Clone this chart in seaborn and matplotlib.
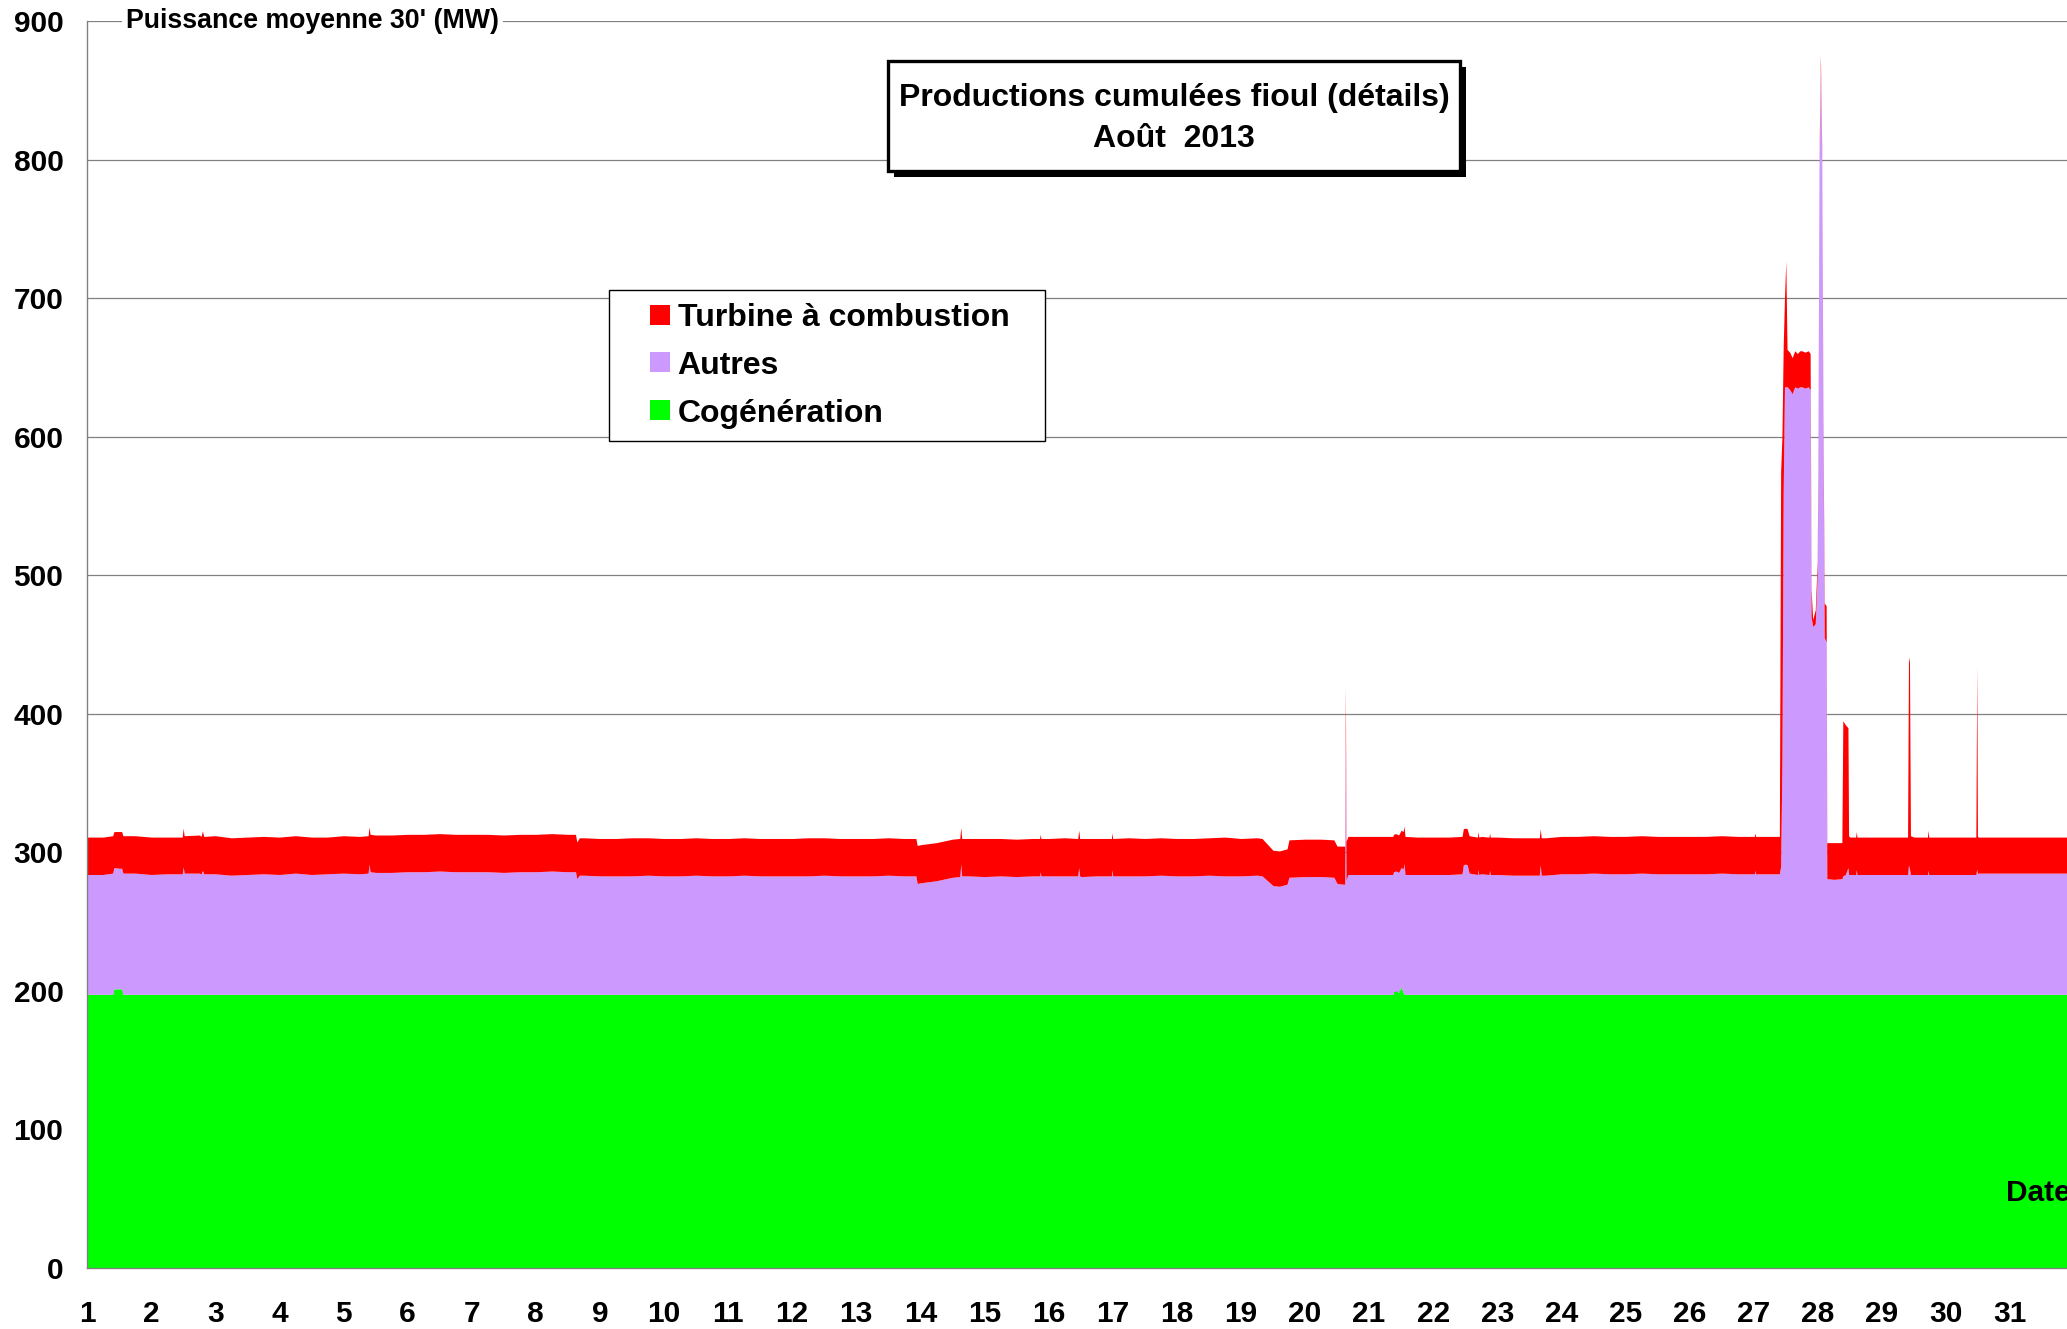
import numpy as np
import pandas as pd
import matplotlib
matplotlib.use("Agg")
import matplotlib.pyplot as plt
import matplotlib.transforms as mtransforms
from matplotlib.lines import Line2D
from matplotlib.patches import Rectangle
import seaborn as sns

# --- Style ---
sns.set_theme(style="white")
plt.rcParams['font.family'] = ['Liberation Sans', 'DejaVu Sans']
plt.rcParams['font.weight'] = 'bold'
plt.rcParams.update({
    'text.color': 'black',
    'axes.labelcolor': 'black',
    'xtick.color': 'black',
    'ytick.color': 'black',
})

# --- Data (MW, cumulative levels) ---
# quarter-day grid, 1 Aug 00:00 -> 1 Sep 00:00
jours_grille = np.arange(1, 32.001, 0.25)

# level of the green band (cogeneration)
haut_cogen_grille = [
    197.5, 197.5, 201.5, 197.5,   # 1
    197.5, 197.5, 197.5, 197.5,   # 2
    197.5, 197.5, 197.5, 197.5,   # 3
    197.5, 197.5, 197.5, 197.5,   # 4
    197.5, 197.5, 197.5, 197.5,   # 5
    197.5, 197.5, 197.5, 197.5,   # 6
    197.5, 197.5, 197.5, 197.5,   # 7
    197.5, 197.5, 197.5, 197.5,   # 8
    197.5, 197.5, 197.5, 197.5,   # 9
    197.5, 197.5, 197.5, 197.5,   # 10
    197.5, 197.5, 197.5, 197.5,   # 11
    197.5, 197.5, 197.5, 197.5,   # 12
    197.5, 197.5, 197.5, 197.5,   # 13
    197.5, 197.5, 197.5, 197.5,   # 14
    197.5, 197.5, 197.5, 197.5,   # 15
    197.5, 197.5, 197.5, 197.5,   # 16
    197.5, 197.5, 197.5, 197.5,   # 17
    197.5, 197.5, 197.5, 197.5,   # 18
    197.5, 197.5, 197.5, 197.5,   # 19
    197.5, 197.5, 197.5, 197.5,   # 20
    197.5, 197.5, 203.0, 197.5,   # 21
    197.5, 197.5, 197.5, 197.5,   # 22
    197.5, 197.5, 197.5, 197.5,   # 23
    197.5, 197.5, 197.5, 197.5,   # 24
    197.5, 197.5, 197.5, 197.5,   # 25
    197.5, 197.5, 197.5, 197.5,   # 26
    197.5, 197.5, 197.5, 197.5,   # 27
    197.5, 197.5, 197.5, 197.5,   # 28
    197.5, 197.5, 197.5, 197.5,   # 29
    197.5, 197.5, 197.5, 197.5,   # 30
    197.5, 197.5, 197.5, 197.5,   # 31
    197.5,
]

# top of the purple band (cogeneration + autres)
haut_autres_grille = [
    284, 284, 288.5, 285,         # 1
    284, 284.5, 289.5, 285,       # 2
    284.5, 283.5, 284, 284.5,     # 3
    284, 285, 284, 284.5,         # 4
    285, 284.5, 285.5, 285.5,     # 5
    286, 286, 286.5, 286,         # 6
    286, 286, 285.5, 286,         # 7
    286, 286.5, 286, 283.5,       # 8
    283, 283, 283, 283.5,         # 9
    283, 283, 283.5, 283,         # 10
    283, 283.5, 283, 283,         # 11
    283, 283, 283.5, 283,         # 12
    283, 283, 283.5, 283,         # 13
    278, 279.5, 282, 283,         # 14
    282.5, 283, 282.5, 283,       # 15
    283, 283, 282.5, 283,         # 16
    283, 283, 283, 283.5,         # 17
    283, 283, 283.5, 283,         # 18
    283, 283.5, 276, 282,         # 19
    282.5, 282.5, 277.5, 284,     # 20
    284, 284, 289, 284,           # 21
    284, 284, 291.5, 284.5,       # 22
    284, 283.5, 283.5, 283.5,     # 23
    284.5, 284.5, 285, 284.5,     # 24
    284.5, 285, 284.5, 284.5,     # 25
    284.5, 284.5, 285, 284.5,     # 26
    284.5, 284.5, 636, 636,       # 27
    560, 280.5, 284, 284,         # 28
    284, 284, 284, 284,           # 29
    284, 284, 285, 285,           # 30
    285, 285, 285, 285,           # 31
    285,
]

# top of the red band (total)
haut_tac_grille = [
    311, 311, 315, 312,           # 1
    311, 311, 317.5, 312.5,       # 2
    312, 310.5, 311, 311.5,       # 3
    311, 312, 311, 311,           # 4
    312, 311.5, 312.5, 312.5,     # 5
    313, 313, 313.5, 313,         # 6
    313, 313, 312.5, 313,         # 7
    313, 313.5, 313, 310.5,       # 8
    310, 310, 310.5, 310.5,       # 9
    310, 310, 310.5, 310,         # 10
    310, 310.5, 310, 310,         # 11
    310, 310.5, 310.5, 310,       # 12
    310, 310, 310.5, 310,         # 13
    305.5, 307, 309.5, 310,       # 14
    310, 310, 309.5, 310,         # 15
    310, 310.5, 310, 310,         # 16
    310, 310.5, 310, 310.5,       # 17
    310, 310, 310.5, 311,         # 18
    310, 310.5, 301.5, 309,       # 19
    309.5, 309.5, 304.5, 311.5,   # 20
    311.5, 311.5, 316, 311,       # 21
    311, 311, 317.5, 311.5,       # 22
    311, 310.5, 310.5, 310.5,     # 23
    311.5, 311.5, 312, 311.5,     # 24
    311.5, 312, 311.5, 311.5,     # 25
    311.5, 311.5, 312, 311.5,     # 26
    311.5, 311.5, 727, 662,       # 27
    570, 307, 311, 311,           # 28
    311, 311, 311, 311,           # 29
    311, 311, 311, 311,           # 30
    311, 311, 311, 311,           # 31
    311,
]

# short events (spikes, dips, 27-28 Aug peak) between grid points
jours_evt = [
    1.40, 1.42, 1.54, 1.56,
    2.485, 2.515, 2.78, 2.80, 2.82,
    5.385, 5.40, 5.415,
    8.62, 8.64, 8.68,
    13.93, 13.95,
    14.615, 14.63, 14.645,
    15.86, 15.87, 15.88,
    16.455, 16.47, 16.485, 16.98, 16.99,
    19.33, 19.60, 19.72,
    20.45, 20.60, 20.62, 20.63, 20.64, 20.67,
    21.37, 21.38, 21.42, 21.46, 21.53, 21.545, 21.56,
    22.45, 22.47, 22.53, 22.56, 22.69, 22.70, 22.71, 22.87, 22.88, 22.89,
    23.655, 23.67, 23.685,
    27.01, 27.02, 27.03,
    27.40, 27.42, 27.44, 27.46, 27.48, 27.52, 27.56, 27.60, 27.64, 27.68, 27.72, 27.80, 27.85, 27.88,
    27.895, 27.92, 27.96, 27.99, 28.02, 28.04, 28.06, 28.08, 28.10, 28.13, 28.14,
    28.375, 28.39, 28.43, 28.47, 28.48, 28.59, 28.60, 28.61,
    29.40, 29.415, 29.43, 29.445, 29.71, 29.72, 29.73,
    30.465, 30.48, 30.49,
]
haut_cogen_evt = [
    197.5, 201.5, 201.5, 197.5,
    197.5, 197.5, 197.5, 197.5, 197.5,
    197.5, 197.5, 197.5,
    197.5, 197.5, 197.5,
    197.5, 197.5,
    197.5, 197.5, 197.5,
    197.5, 197.5, 197.5,
    197.5, 197.5, 197.5, 197.5, 197.5,
    197.5, 197.5, 197.5,
    197.5, 197.5, 197.5, 197.5, 197.5, 197.5,
    197.5, 199.5, 200.0, 199.0, 199.0, 197.5, 197.5,
    197.5, 197.5, 197.5, 197.5, 197.5, 197.5, 197.5, 197.5, 197.5, 197.5,
    197.5, 197.5, 197.5,
    197.5, 197.5, 197.5,
    197.5, 197.5, 197.5, 197.5, 197.5, 197.5, 197.5, 197.5, 197.5, 197.5, 197.5, 197.5, 197.5, 197.5,
    197.5, 197.5, 197.5, 197.5, 197.5, 197.5, 197.5, 197.5, 197.5, 197.5, 197.5,
    197.5, 197.5, 197.5, 197.5, 197.5, 197.5, 197.5, 197.5,
    197.5, 197.5, 197.5, 197.5, 197.5, 197.5, 197.5,
    197.5, 197.5, 197.5,
]
haut_autres_evt = [
    285, 289, 288.5, 285,
    284.5, 285, 284.5, 287, 284.5,
    285, 291.5, 286,
    286, 281, 283.5,
    283, 277.5,
    282.5, 291.5, 283,
    283, 286, 283,
    283, 289, 283, 283, 287.5,
    283, 275.5, 277,
    282, 277, 277, 390, 280, 284,
    284, 286, 286.5, 285.5, 288, 292, 284,
    284.5, 291, 291, 285, 284, 287.5, 284, 284, 287, 284,
    283.5, 291, 283.5,
    284.5, 287, 284.5,
    284.5, 290, 365, 560, 636, 636, 634, 631, 636, 635, 636, 635, 636, 634,
    470, 463, 465, 500, 800, 868, 800, 600, 455, 452, 281,
    281, 283, 284, 289, 284, 284, 287.5, 284,
    284, 291, 288, 284, 284, 287, 284,
    284, 288, 284.5,
]
haut_tac_evt = [
    312, 315, 315, 312,
    311, 312, 311.5, 315.5, 311.5,
    312, 318.5, 313,
    313, 307.5, 310.5,
    310, 305,
    310, 318, 310,
    310, 313, 310,
    310, 316, 310, 310, 314,
    310, 301, 302.5,
    309, 304.5, 304.5, 420, 308, 311.5,
    311.5, 313, 313.5, 312.5, 315, 319, 311.5,
    311.5, 317, 317, 312, 311, 315, 311, 311, 314, 311,
    310.5, 317, 310.5,
    311.5, 314, 311.5,
    311.5, 575, 600, 665, 700, 663, 661, 657, 662, 660, 662, 661, 662, 660,
    490, 468, 475, 510, 805, 876, 810, 615, 480, 478, 307,
    307, 395, 392, 390, 312, 311, 315, 311,
    311, 441, 437, 312, 311, 316, 311,
    311, 435, 312,
]

series = ["Cogénération", "Autres", "Turbine à combustion"]
couleurs = ["#00FF00", "#CC99FF", "#FF0000"]

# merge grid + events, then turn cumulative levels into stacked series
df = pd.DataFrame({
    "jour": np.concatenate([jours_grille, jours_evt]),
    "h_cogen": np.concatenate([haut_cogen_grille, haut_cogen_evt]),
    "h_autres": np.concatenate([haut_autres_grille, haut_autres_evt]),
    "h_tac": np.concatenate([haut_tac_grille, haut_tac_evt]),
}).sort_values("jour").reset_index(drop=True)
df["Cogénération"] = df["h_cogen"]
df["Autres"] = df["h_autres"] - df["h_cogen"]
df["Turbine à combustion"] = df["h_tac"] - df["h_autres"]

# --- Figure ---
fig = plt.figure(figsize=(20.67, 13.29), dpi=100)
ax = fig.add_axes([0.0421, 0.0459, 0.9614, 0.9383])

ax.stackplot(df["jour"], *[df[s] for s in series], colors=couleurs,
             linewidth=0, antialiased=True)

ax.set_xlim(1, 32)
ax.set_ylim(0, 900)
ax.set_yticks(range(0, 901, 100))
ax.set_xticks(range(1, 32))
ax.set_xticks(np.arange(1.5, 32, 1), minor=True)
ax.tick_params(axis='both', which='both', direction='out', length=8, width=1,
               color='#808080', labelcolor='black', labelsize=21.5)
ax.tick_params(axis='x', which='major', pad=15)
ax.tick_params(axis='y', pad=9)
for lab in ax.get_xticklabels() + ax.get_yticklabels():
    lab.set_fontweight('bold')

ax.yaxis.grid(True, color='#808080', linewidth=0.9)
ax.xaxis.grid(False)
ax.set_axisbelow(True)
for side in ['top', 'right']:
    ax.spines[side].set_visible(False)
for side in ['left', 'bottom']:
    ax.spines[side].set_color('#808080')
    ax.spines[side].set_linewidth(1)

# axis label placed on the 900 gridline
trans = mtransforms.blended_transform_factory(ax.transAxes, ax.transData)
ax.text(0.0196, 900, "Puissance moyenne 30' (MW)", transform=trans,
        ha='left', va='center', fontsize=19.3, fontweight='bold', color='black',
        zorder=5, clip_on=False,
        bbox=dict(facecolor='white', edgecolor='none', pad=3))

ax.text(30.94, 54, "Date", ha='left', va='center', fontsize=21.5,
        fontweight='bold', color='black', clip_on=False)

# title box with shadow
fig.add_artist(Rectangle((0.4325, 0.8668), 0.2767, 0.0828, transform=fig.transFigure,
                         facecolor='black', edgecolor='none', zorder=10))
fig.add_artist(Rectangle((0.4296, 0.8713), 0.2767, 0.0828, transform=fig.transFigure,
                         facecolor='white', edgecolor='black', linewidth=2.4, zorder=11))
fig.text(0.568, 0.9262, "Productions cumulées fioul (détails)", ha='center', va='center',
         fontsize=23, fontweight='bold', color='black', zorder=12)
fig.text(0.568, 0.8954, "Août  2013", ha='center', va='center',
         fontsize=23, fontweight='bold', color='black', zorder=12)

# legend, stretched to the width of the original box
handles = [Line2D([], [], marker='s', linestyle='', markersize=14.5,
                  markerfacecolor=c, markeredgewidth=0) for c in couleurs[::-1]]
leg = fig.legend(handles, series[::-1], loc='upper left', mode='expand',
                 bbox_to_anchor=(0.2946, 0.6697, 0.2109, 0.1121),
                 bbox_transform=fig.transFigure,
                 borderaxespad=0, borderpad=0.4, handlelength=2.375,
                 handletextpad=-0.625, labelspacing=0.56, fancybox=False,
                 framealpha=1, edgecolor='black', labelcolor='black',
                 prop={'size': 23, 'weight': 'bold'})
leg.get_frame().set_linewidth(1.0)

fig.savefig("out.png", dpi=100)
